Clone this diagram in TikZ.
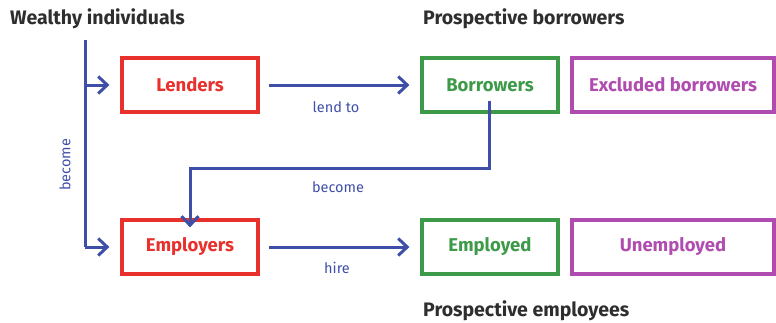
\documentclass[tikz,border=0pt]{standalone}
\usepackage{fontspec}
\setmainfont{Fira Sans}
\usetikzlibrary{arrows.meta}
\definecolor{flowblue}{HTML}{3F4FA8}
\definecolor{boxred}{HTML}{E8302C}
\definecolor{boxgreen}{HTML}{3C9A48}
\definecolor{boxpurple}{HTML}{B04CB0}
\definecolor{headgray}{HTML}{2E2E2E}
\tikzset{
  box/.style={draw, line width=3.2pt, minimum height=54pt, inner sep=0pt, font=\fontsize{18.5}{21}\selectfont\bfseries},
  redbox/.style={box, draw=boxred, text=boxred, minimum width=136pt},
  greenbox/.style={box, draw=boxgreen, text=boxgreen, minimum width=136pt},
  purplebox/.style={box, draw=boxpurple, text=boxpurple, minimum width=202pt},
  flow/.style={draw=flowblue, line width=3pt, -{Straight Barb[length=9pt,width=17pt,line width=3pt]}},
  plainflow/.style={draw=flowblue, line width=3pt},
  lbl/.style={text=flowblue, font=\fontsize{14.5}{16}\selectfont, inner sep=0pt},
  head/.style={text=headgray, font=\fontsize{19.5}{22}\selectfont\bfseries, inner sep=0pt, anchor=west}
}
\begin{document}
\begin{tikzpicture}[x=1pt,y=-1pt]
\useasboundingbox (0,0) rectangle (776,322);
% headings
\node[head] (wealthy) at (10,19) {Wealthy individuals};
\node[head] (pborrow) at (423,19) {Prospective borrowers};
\node[head] (pemploy) at (423,311) {Prospective employees};
% boxes
\node[redbox] (lenders) at (190,85) {Lenders};
\node[greenbox] (borrowers) at (490,85) {Borrowers};
\node[purplebox] (excluded) at (673,85) {Excluded borrowers};
\node[redbox] (employers) at (190,247) {Employers};
\node[greenbox] (employed) at (490,247) {Employed};
\node[purplebox] (unemployed) at (673,247) {Unemployed};
% coordinates
\coordinate (top) at (85,40);
\coordinate (jl) at (85,85);
\coordinate (je) at (85,247);
\coordinate (bd) at (489,168);
\coordinate (ed) at (190,168);
% wealthy branch
\draw[plainflow] (top) -- (je);
\draw[flow] (jl) -- ([xshift=-11pt]lenders.west);
\draw[flow] (je) -- ([xshift=-11pt]employers.west);
\node[lbl, rotate=90] (becomev) at (65,165) {become};
% lend to
\draw[flow] ([xshift=9pt]lenders.east) -- ([xshift=-11pt]borrowers.west);
\node[lbl] (lendto) at (336,107) {lend to};
% borrowers become employers
\draw[flow] ([xshift=-1pt,yshift=13pt]borrowers.south) -- (bd) -- (ed) -- ([yshift=-9pt]employers.north);
\node[lbl] (becomeh) at (338,187) {become};
% hire
\draw[flow] ([xshift=9pt]employers.east) -- ([xshift=-11pt]employed.west);
\node[lbl] (hire) at (337,268) {hire};
\end{tikzpicture}
\end{document}
